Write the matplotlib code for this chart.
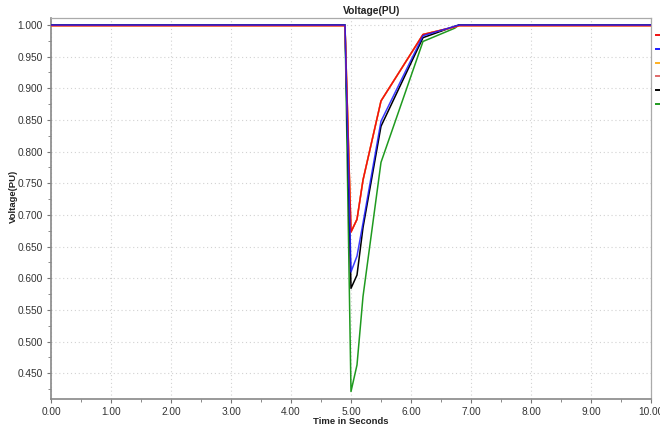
import matplotlib
matplotlib.use("Agg")
import matplotlib.pyplot as plt
from matplotlib.lines import Line2D
from matplotlib.ticker import MultipleLocator, FormatStrFormatter

plt.rcParams['font.family'] = ['Liberation Sans', 'DejaVu Sans']

# ---- data ----
time = [0.0, 4.9, 5.0, 5.1, 5.2, 5.5, 6.2, 6.73, 6.8, 10.0]
v_red    = [0.999, 0.999, 0.673, 0.693, 0.755, 0.880, 0.985, 0.997, 0.999, 0.999]
v_orange = [0.999, 0.999, 0.673, 0.693, 0.755, 0.880, 0.985, 0.997, 0.999, 0.999]
v_salmon = [0.999, 0.999, 0.673, 0.693, 0.755, 0.880, 0.985, 0.997, 0.999, 0.999]
v_blue   = [1.000, 1.000, 0.610, 0.635, 0.687, 0.848, 0.983, 0.998, 1.000, 1.000]
v_black  = [1.000, 1.000, 0.584, 0.605, 0.680, 0.840, 0.980, 0.998, 1.000, 1.000]
v_green  = [1.000, 1.000, 0.421, 0.463, 0.571, 0.783, 0.974, 0.995, 1.000, 1.000]

x_ticks = [0, 1, 2, 3, 4, 5, 6, 7, 8, 9, 10]
y_ticks = [0.45, 0.50, 0.55, 0.60, 0.65, 0.70, 0.75, 0.80, 0.85, 0.90, 0.95, 1.00]

title = "Voltage(PU)"
xlabel = "Time in Seconds"
ylabel = "Voltage(PU)"

c_red, c_blue, c_orange, c_salmon, c_black, c_green = (
    "#f01010", "#1a1aff", "#ffb020", "#e06a6a", "#000000", "#1f9a1f")

W, H = 660, 430
fig = plt.figure(figsize=(6.6, 4.3), dpi=100)
L, R, T, B = 51, 651, 18, 399
ax = fig.add_axes([L / W, 1 - B / H, (R - L) / W, (B - T) / H])

lw = 1.1
ax.plot(time, v_green, color=c_green, lw=lw, zorder=3)
ax.plot(time, v_black, color=c_black, lw=lw, zorder=3)
ax.plot(time, v_salmon, color=c_salmon, lw=lw, zorder=3)
ax.plot(time, v_orange, color=c_orange, lw=lw, zorder=3)
ax.plot(time, v_red, color=c_red, lw=lw, zorder=3)
ax.plot(time, v_blue, color=c_blue, lw=lw, zorder=3, alpha=0.85)

ax.set_xlim(0, 10)
ax.set_ylim(1 - (B - 25) / 633, 1 + (25 - T) / 633)
ax.set_xticks(x_ticks)
ax.set_yticks(y_ticks)
ax.xaxis.set_major_formatter(FormatStrFormatter('%.2f'))
ax.yaxis.set_major_formatter(FormatStrFormatter('%.3f'))
ax.xaxis.set_minor_locator(MultipleLocator(0.5))
ax.yaxis.set_minor_locator(MultipleLocator(0.025))
ax.tick_params(which='major', length=3, width=0.8, color='#777777',
               labelsize=7.3, labelcolor='#333333', pad=3)
ax.tick_params(which='minor', length=2, width=0.6, color='#777777')
ax.grid(True, which='major', linestyle=(0, (1, 2.5)), color='#d2d2d2', lw=0.8)

for s in ['left', 'bottom']:
    ax.spines[s].set_color('#888888')
    ax.spines[s].set_linewidth(1.2)
for s in ['right', 'top']:
    ax.spines[s].set_color('#aaaaaa')
    ax.spines[s].set_linewidth(0.9)

fig.text(371.5 / W, 1 - 10.5 / H, title, ha='center', va='center',
         fontsize=7.4, fontweight='bold', color='#222222')
fig.text(351 / W, 1 - 422 / H, xlabel, ha='center', va='center',
         fontsize=6.8, fontweight='bold', color='#222222')
fig.text(13 / W, 1 - 196 / H, ylabel, ha='center', va='center',
         rotation=90, fontsize=6.8, fontweight='bold', color='#222222')

# legend swatches at the right edge
for i, c in enumerate([c_red, c_blue, c_orange, c_salmon, c_black, c_green]):
    y = 1 - (35 + i * 13.8) / H
    fig.add_artist(Line2D([656 / W, 661 / W], [y, y], color=c, lw=1.4,
                          transform=fig.transFigure))

fig.savefig("out.png", dpi=100)
